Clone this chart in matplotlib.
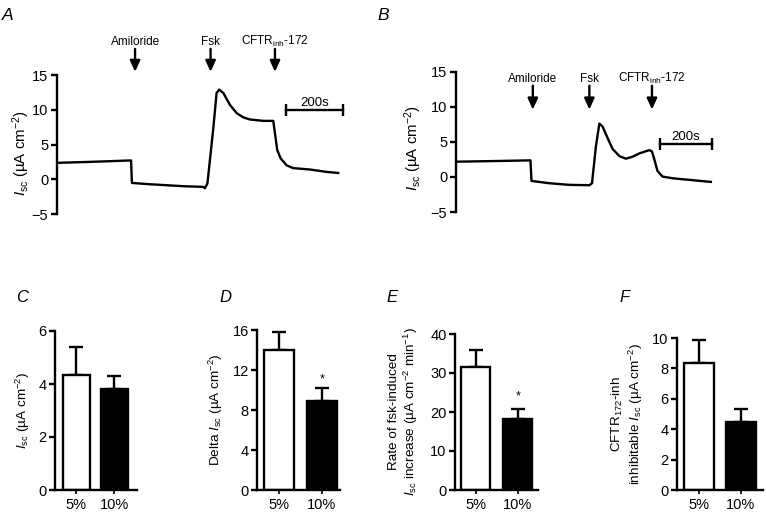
import matplotlib
matplotlib.use("Agg")
import matplotlib.pyplot as plt

plt.rcParams["font.family"] = ["Liberation Sans", "DejaVu Sans"]
plt.rcParams["mathtext.fontset"] = "custom"
plt.rcParams["mathtext.rm"] = "Liberation Sans"
plt.rcParams["mathtext.it"] = "Liberation Sans:italic"
plt.rcParams["mathtext.bf"] = "Liberation Sans:bold"

W, H = 767, 514

# --- trace A (time in s, Isc in uA cm-2)
trace_a_t = [0, 117, 257, 261, 264, 327, 444, 515, 520, 529, 550, 561, 570, 585,
             608, 632, 655, 678, 725, 760, 766, 774, 786, 807, 830, 889, 947, 988]
trace_a_i = [2.36, 2.5, 2.7, 2.7, -0.53, -0.72, -1.0, -1.1, -1.3, -0.6, 7.5, 12.4,
             12.9, 12.4, 10.7, 9.5, 8.9, 8.6, 8.4, 8.4, 6.6, 4.2, 3.0, 2.0, 1.6,
             1.4, 1.06, 0.9]

# --- trace B
trace_b_t = [0, 142, 285, 289, 357, 433, 509, 519, 534, 547, 559, 578, 597, 623,
             648, 673, 699, 737, 747, 756, 768, 787, 825, 889, 971]
trace_b_i = [2.17, 2.26, 2.36, -0.57, -0.9, -1.13, -1.18, -0.9, 4.39, 7.6, 7.2,
             5.57, 4.0, 2.97, 2.6, 2.88, 3.35, 3.82, 3.63, 2.5, 0.85, 0.05, -0.19,
             -0.42, -0.71]

drug_labels = ["Amiloride", "Fsk", r"CFTR$_{\mathrm{inh}}$-172"]
drugs_a_t = [275, 540, 766]
drugs_b_t = [294, 509, 747]
scalebar_a = [805, 1005]
scalebar_b = [777, 977]

# --- summary bars (mean, SEM)
groups = ["5%", "10%"]
isc_mean = [4.35, 3.8]
isc_sem = [1.05, 0.5]
delta_mean = [14.0, 8.9]
delta_sem = [1.8, 1.3]
rate_mean = [31.5, 18.2]
rate_sem = [4.3, 2.6]
cftr_mean = [8.35, 4.5]
cftr_sem = [1.55, 0.85]

ISC = r"$I_{\mathrm{sc}}$"
UNIT = r"(µA cm$^{-2}$)"

fig = plt.figure(figsize=(W / 100, H / 100), dpi=100)


def px_axes(left, top, right, bottom):
    return fig.add_axes([left / W, 1 - bottom / H, (right - left) / W, (bottom - top) / H])


def style_axes(ax, show_bottom, labelsize):
    for side in ("top", "right"):
        ax.spines[side].set_visible(False)
    ax.spines["left"].set_linewidth(1.7)
    ax.spines["bottom"].set_linewidth(1.7)
    ax.spines["bottom"].set_visible(show_bottom)
    ax.tick_params(axis="y", direction="out", length=4, width=1.7, pad=2, labelsize=labelsize)
    ax.tick_params(axis="x", direction="out", length=3, width=1.2, pad=3, labelsize=labelsize)
    if not show_bottom:
        ax.set_xticks([])


def trace_panel(ax, t, isc, drug_t, tip, tail, text_y, bar, bar_y, bar_text_y, xmax):
    style_axes(ax, show_bottom=False, labelsize=10.5)
    ax.plot(t, isc, color="black", lw=1.7)
    ax.set_xlim(0, xmax)
    ax.set_ylim(-5, 15)
    ax.set_yticks([-5, 0, 5, 10, 15])
    ax.set_yticklabels(["\u22125", "0", "5", "10", "15"])
    for label, x in zip(drug_labels, drug_t):
        ax.annotate("", xy=(x, tip), xytext=(x, tail), annotation_clip=False,
                    arrowprops=dict(arrowstyle="-|>,head_length=0.55,head_width=0.25",
                                    color="black", lw=1.7, shrinkA=0, shrinkB=0,
                                    mutation_scale=12))
        ax.text(x, text_y, label, ha="center", va="baseline", fontsize=8.5, clip_on=False)
    ax.plot(bar, [bar_y, bar_y], color="black", lw=1.7, marker="|", markersize=8,
            mew=1.7, clip_on=False)
    ax.text(sum(bar) / 2, bar_text_y, "200s", ha="center", va="baseline", fontsize=9.5)
    ax.set_ylabel(ISC + " " + UNIT, fontsize=10.8, va="center")


ax_a = px_axes(56.7, 75, 344.5, 214)
trace_panel(ax_a, trace_a_t, trace_a_i, drugs_a_t, 15.45, 18.75, 19.35,
            scalebar_a, 10.0, 10.6, 1010)
ax_a.yaxis.set_label_coords(-0.125, 0.44)

ax_b = px_axes(455.5, 71.7, 718.5, 212)
trace_panel(ax_b, trace_b_t, trace_b_i, drugs_b_t, 9.6, 13.0, 13.5,
            scalebar_b, 4.72, 5.3, 1000)
ax_b.yaxis.set_label_coords(-0.16, 0.457)


def bar_panel(ax, means, sems, yticks, xlim, width, ylabel, label_x, star=None):
    style_axes(ax, show_bottom=True, labelsize=10.5)
    x = [0, 1]
    ax.errorbar(x, means, yerr=[[0, 0], sems], fmt="none", ecolor="black",
                elinewidth=1.7, capsize=5, capthick=1.7, zorder=1)
    ax.bar(x, means, width=width, color=["white", "black"], edgecolor="black",
           linewidth=1.7, zorder=2)
    ax.set_xlim(*xlim)
    ax.set_ylim(yticks[0], yticks[-1])
    ax.set_yticks(yticks)
    ax.set_xticks(x)
    ax.set_xticklabels(groups)
    ax.set_ylabel(ylabel, fontsize=9.7, va="center", linespacing=1.15)
    ax.yaxis.set_label_coords(label_x, 0.5)
    if star is not None:
        ax.text(1, star, "*", ha="center", va="center", fontsize=9)


ax_c = px_axes(55, 331, 137, 490)
bar_panel(ax_c, isc_mean, isc_sem, [0, 2, 4, 6], (-0.553, 1.605), 0.71,
          ISC + " " + UNIT, -0.39)

ax_d = px_axes(257, 330, 340, 490)
bar_panel(ax_d, delta_mean, delta_sem, [0, 4, 8, 12, 16], (-0.512, 1.42), 0.70,
          "Delta " + ISC + " " + UNIT, -0.5, star=11.1)

ax_e = px_axes(455, 334, 538, 490)
bar_panel(ax_e, rate_mean, rate_sem, [0, 10, 20, 30, 40], (-0.5, 1.48), 0.69,
          "Rate of fsk-induced\n" + ISC + r" increase (µA cm$^{-2}$ min$^{-1}$)",
          -0.61, star=24.0)

ax_f = px_axes(677, 338, 763, 490)
bar_panel(ax_f, cftr_mean, cftr_sem, [0, 2, 4, 6, 8, 10], (-0.524, 1.524), 0.71,
          r"CFTR$_{172}$-inh" + "\ninhibitable " + ISC + " " + UNIT, -0.58)

for letter, (x, y), size in [("A", (8, 16), 12.5), ("B", (383, 16), 12.5),
                             ("C", (22, 297), 12), ("D", (225, 297), 12),
                             ("E", (392, 297), 12), ("F", (625, 297), 12)]:
    fig.text(x / W, 1 - y / H, letter, fontsize=size, style="italic",
             ha="center", va="center")

fig.savefig("out.png", dpi=100)
